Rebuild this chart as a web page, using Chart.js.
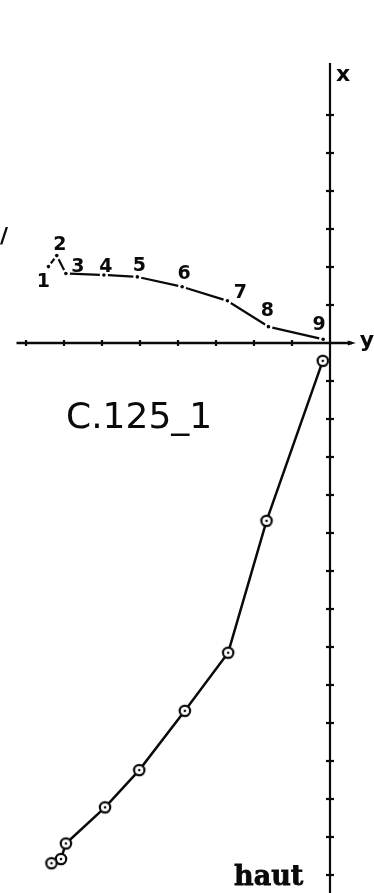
<!DOCTYPE html>
<html>
<head>
<meta charset="utf-8">
<title>C.125_1</title>
<script src="https://cdn.jsdelivr.net/npm/chart.js@4.4.1/dist/chart.umd.min.js"></script>
<style>
  html, body { margin: 0; padding: 0; background: #fff; }
  #plot { display: block; }
</style>
</head>
<body>
<canvas id="plot" width="374" height="893"></canvas>
<script>
// stations 1..9, one grid step = one unit on both axes
const stationLabels = ['1', '2', '3', '4', '5', '6', '7', '8', '9'];
const stationY = [-7.41, -7.19, -6.95, -5.95, -5.07, -3.89, -2.70, -1.62, -0.18];
const profileX = [2.01, 2.30, 1.83, 1.79, 1.74, 1.48, 1.11, 0.43, 0.10];

// lower trace, listed from the top (station 9) down to station 1
const traceY = [-0.19, -1.67, -2.68, -3.82, -5.02, -5.92, -6.95, -7.08, -7.33];
const traceX = [-0.47, -4.68, -8.15, -9.68, -11.24, -12.22, -13.17, -13.58, -13.69];

const hTicks = [-8, -7, -6, -5, -4, -3, -2, -1];
const vTicks = [6, 5, 4, 3, 2, 1, -1, -2, -3, -4, -5, -6, -7, -8, -9, -10, -11, -12, -13, -14];

// label nudges in px (dx, dy) for station numbers
const labelNudge = [[-5, 15], [3, -11], [12, -6], [2, -8], [2, -11], [2, -13], [13, -8], [-1, -16], [-4, -14]];

const ink = '#0a0a0a';

const toPoints = (xs, ys) => xs.map((v, i) => ({ x: v, y: ys[i] }));

// ring with a centre dot, used as point marker on the lower trace
const ringMarker = (() => {
  const c = document.createElement('canvas');
  c.width = 18; c.height = 18;
  const g = c.getContext('2d');
  g.beginPath();
  g.arc(9, 9, 5.2, 0, Math.PI * 2);
  g.fillStyle = '#fff';
  g.fill();
  g.lineWidth = 2.2;
  g.strokeStyle = ink;
  g.stroke();
  g.beginPath();
  g.arc(9, 9, 1.3, 0, Math.PI * 2);
  g.fillStyle = ink;
  g.fill();
  return c;
})();

// each segment leaves a small gap at both ends around the station dots
const gappedDash = (ctx) => {
  const len = Math.hypot(ctx.p1.x - ctx.p0.x, ctx.p1.y - ctx.p0.y);
  const gap = 4;
  return [0, gap, Math.max(len - gap * 2, 1), gap];
};

const axesPlugin = {
  id: 'crossAxes',
  beforeDatasetsDraw(chart) {
    const { ctx, scales: { x, y } } = chart;
    const x0 = x.getPixelForValue(0);
    const y0 = y.getPixelForValue(0);
    ctx.save();
    ctx.strokeStyle = ink;
    ctx.fillStyle = ink;

    // vertical axis
    ctx.lineWidth = 2.2;
    ctx.beginPath();
    ctx.moveTo(x0, y.getPixelForValue(7.37));
    ctx.lineTo(x0, chart.height);
    ctx.stroke();

    // horizontal axis with small arrowhead
    const xEnd = x.getPixelForValue(0.68);
    ctx.lineWidth = 2.4;
    ctx.beginPath();
    ctx.moveTo(x.getPixelForValue(-8.25), y0);
    ctx.lineTo(xEnd - 4, y0);
    ctx.stroke();
    ctx.beginPath();
    ctx.moveTo(xEnd, y0);
    ctx.lineTo(xEnd - 8, y0 - 2.5);
    ctx.lineTo(xEnd - 8, y0 + 2.5);
    ctx.closePath();
    ctx.fill();

    ctx.lineWidth = 2.2;
    vTicks.forEach(v => {
      const py = y.getPixelForValue(v);
      ctx.beginPath();
      ctx.moveTo(x0 - 4, py);
      ctx.lineTo(x0 + 4, py);
      ctx.stroke();
    });
    hTicks.forEach(v => {
      const px = x.getPixelForValue(v);
      ctx.beginPath();
      ctx.moveTo(px, y0 - 3);
      ctx.lineTo(px, y0 + 3);
      ctx.stroke();
    });
    ctx.restore();
  },
  afterDatasetsDraw(chart) {
    const { ctx, scales: { x, y } } = chart;
    ctx.save();
    ctx.fillStyle = ink;
    ctx.textAlign = 'center';
    ctx.textBaseline = 'middle';

    ctx.font = 'bold 19px "DejaVu Sans"';
    stationLabels.forEach((t, i) => {
      const px = x.getPixelForValue(stationY[i]) + labelNudge[i][0];
      const py = y.getPixelForValue(profileX[i]) + labelNudge[i][1];
      ctx.fillText(t, px, py);
    });

    // axis names
    ctx.font = 'bold 22px "DejaVu Sans"';
    ctx.textAlign = 'left';
    ctx.fillText('x', x.getPixelForValue(0) + 6, y.getPixelForValue(7.04));
    ctx.fillText('y', x.getPixelForValue(0.78), y.getPixelForValue(0) - 2);
    ctx.fillText('/', 0, 237);

    ctx.font = '36px "DejaVu Sans"';
    ctx.textBaseline = 'alphabetic';
    ctx.fillText('C.125_1', 66, 428);

    ctx.font = 'bold 27px "DejaVu Serif"';
    ctx.strokeStyle = ink;
    ctx.lineWidth = 0.8;
    ctx.fillText('haut', 234, 885);
    ctx.strokeText('haut', 234, 885);
    ctx.restore();
  }
};

new Chart(document.getElementById('plot'), {
  type: 'scatter',
  data: {
    datasets: [
      {
        label: 'profil',
        data: toPoints(stationY, profileX),
        showLine: true,
        borderColor: ink,
        borderWidth: 2.2,
        pointRadius: 1.8,
        pointBackgroundColor: ink,
        pointBorderWidth: 0,
        segment: { borderDash: gappedDash }
      },
      {
        label: 'trace',
        data: toPoints(traceY, traceX),
        showLine: true,
        borderColor: ink,
        borderWidth: 2.5,
        pointStyle: ringMarker
      }
    ]
  },
  plugins: [axesPlugin],
  options: {
    responsive: false,
    animation: false,
    layout: { autoPadding: false, padding: 0 },
    plugins: { legend: { display: false }, tooltip: { enabled: false } },
    scales: {
      x: { type: 'linear', display: false, min: -330 / 38, max: 44 / 38 },
      y: { type: 'linear', display: false, min: -550 / 38, max: 343 / 38 }
    }
  }
});
</script>
</body>
</html>
